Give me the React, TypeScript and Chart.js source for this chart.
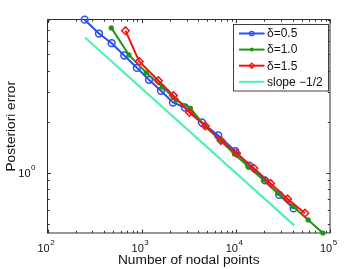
import React, { useEffect, useRef } from 'react';
import { Chart, registerables } from 'chart.js';
Chart.register(...registerables);

// ---- data ----
const blueX = [248, 352, 480, 653, 891, 1196, 1603, 2149, 2882, 4366, 6505, 9860, 13880, 20370, 28900, 41100];
const blueY = [8.03, 6.65, 5.83, 4.93, 4.17, 3.54, 3.05, 2.6, 2.43, 1.98, 1.66, 1.343, 1.1, 0.9, 0.739, 0.615];

const greenX = [476, 733, 1119, 1663, 2330, 3297, 4698, 6863, 9665, 13610, 19630, 28180, 40650, 58700, 84070];
const greenY = [7.18, 4.97, 3.9, 3.21, 2.69, 2.4, 1.887, 1.549, 1.289, 1.085, 0.906, 0.756, 0.632, 0.526, 0.44];

const redX = [673, 941, 1508, 2176, 3216, 4734, 6948, 10200, 15560, 23410, 35480, 54150];
const redY = [6.91, 4.55, 3.5, 2.856, 2.27, 1.891, 1.549, 1.302, 1.062, 0.864, 0.7, 0.576];

const slopeX = [250, 41700];
const slopeY = [6.3, 0.488];

const seriesLabels = ['δ=0.5', 'δ=1.0', 'δ=1.5', 'slope −1/2'];
const xTickExponents = ['2', '3', '4', '5'];
const yTickExponents = ['0'];
const xTitle = 'Number of nodal points';
const yTitle = 'Posteriori error';

const X_MIN = 100;
const X_MAX = 100000;
const Y_MIN = 0.44;
const Y_MAX = 8.05;

// ---- styles ----
const FONT = '"Liberation Sans", Arial, Helvetica, sans-serif';
const AXIS_COLOR = '#303030';
const BLUE = 'rgb(40,80,240)';
const GREEN = 'rgb(30,150,20)';
const RED = 'rgb(245,20,20)';
const AQUA = 'rgb(80,240,180)';

const toPts = (xs: number[], ys: number[]) => xs.map((x, i) => ({ x, y: ys[i] }));

type Marker = 'circle' | 'dot' | 'diamond' | 'none';
const markers: Marker[] = ['circle', 'dot', 'diamond', 'none'];
const colors = [BLUE, GREEN, RED, AQUA];

function drawMarker(ctx: CanvasRenderingContext2D, m: Marker, x: number, y: number, color: string) {
  ctx.save();
  ctx.strokeStyle = color;
  ctx.fillStyle = color;
  ctx.lineWidth = 1.5;
  if (m === 'circle') {
    ctx.beginPath();
    ctx.arc(x, y, 3.2, 0, Math.PI * 2);
    ctx.stroke();
  } else if (m === 'dot') {
    ctx.beginPath();
    ctx.arc(x, y, 2.5, 0, Math.PI * 2);
    ctx.fill();
  } else if (m === 'diamond') {
    const r = 3.8;
    ctx.beginPath();
    ctx.moveTo(x, y - r);
    ctx.lineTo(x + r, y);
    ctx.lineTo(x, y + r);
    ctx.lineTo(x - r, y);
    ctx.closePath();
    ctx.stroke();
  }
  ctx.restore();
}

function drawPow(ctx: CanvasRenderingContext2D, exp: string, cx: number, cy: number, align: 'center' | 'right') {
  ctx.save();
  ctx.fillStyle = '#111';
  ctx.textBaseline = 'middle';
  ctx.textAlign = 'left';
  ctx.font = `11px ${FONT}`;
  const wb = ctx.measureText('10').width;
  ctx.font = `8px ${FONT}`;
  const we = ctx.measureText(exp).width;
  const total = wb + we + 0.5;
  const left = align === 'center' ? cx - total / 2 : cx - total;
  ctx.font = `11px ${FONT}`;
  ctx.fillText('10', left, cy);
  ctx.font = `8px ${FONT}`;
  ctx.fillText(exp, left + wb + 0.5, cy - 6);
  ctx.restore();
}

const framePlugin = {
  id: 'frame',
  beforeDatasetsDraw(chart: any) {
    const { ctx, chartArea: a, scales } = chart;
    const xs = scales.x;
    const ys = scales.y;
    ctx.save();
    ctx.strokeStyle = AXIS_COLOR;
    ctx.lineWidth = 1;
    ctx.strokeRect(a.left, a.top, a.right - a.left, a.bottom - a.top);
    // x ticks
    for (let e = 2; e <= 5; e++) {
      for (let m = 1; m <= 9; m++) {
        const v = m * Math.pow(10, e);
        if (v < X_MIN || v > X_MAX) continue;
        const px = Math.round(xs.getPixelForValue(v)) + 0.5;
        const len = m === 1 ? 3.5 : 2.2;
        ctx.beginPath();
        ctx.moveTo(px, a.bottom);
        ctx.lineTo(px, a.bottom - len);
        ctx.moveTo(px, a.top);
        ctx.lineTo(px, a.top + len);
        ctx.stroke();
      }
    }
    // y ticks
    for (let e = -1; e <= 0; e++) {
      for (let m = 1; m <= 9; m++) {
        const v = m * Math.pow(10, e);
        if (v < Y_MIN || v > Y_MAX) continue;
        const py = Math.round(ys.getPixelForValue(v)) + 0.5;
        const len = m === 1 ? 3.5 : 2.2;
        ctx.beginPath();
        ctx.moveTo(a.left, py);
        ctx.lineTo(a.left + len, py);
        ctx.moveTo(a.right, py);
        ctx.lineTo(a.right - len, py);
        ctx.stroke();
      }
    }
    ctx.restore();
  },
  afterDraw(chart: any) {
    const { ctx, chartArea: a, scales } = chart;
    const xs = scales.x;
    const ys = scales.y;
    // tick labels
    xTickExponents.forEach((exp) => {
      const px = xs.getPixelForValue(Math.pow(10, Number(exp)));
      drawPow(ctx, exp, px - 1.5, a.bottom + 15.5, 'center');
    });
    yTickExponents.forEach((exp) => {
      const py = ys.getPixelForValue(Math.pow(10, Number(exp)));
      drawPow(ctx, exp, a.left - 12, py + 1.5, 'right');
    });
    // axis titles
    ctx.save();
    ctx.fillStyle = '#111';
    ctx.font = `13.7px ${FONT}`;
    ctx.textAlign = 'center';
    ctx.textBaseline = 'middle';
    ctx.fillText(xTitle, (a.left + a.right) / 2, a.bottom + 27.5);
    ctx.translate(11.5, (a.top + a.bottom) / 2);
    ctx.rotate(-Math.PI / 2);
    ctx.fillText(yTitle, 0, 0);
    ctx.restore();

    // legend
    const bx = a.right - 97;
    const by = a.top + 4;
    const bw = 95;
    const bh = 66.5;
    ctx.save();
    ctx.fillStyle = '#fff';
    ctx.fillRect(bx, by, bw, bh);
    ctx.strokeStyle = '#404040';
    ctx.lineWidth = 1;
    ctx.strokeRect(Math.round(bx) + 0.5, Math.round(by) + 0.5, bw, bh);
    seriesLabels.forEach((lab, i) => {
      const cy = by + 10 + i * 16.1;
      const x0 = bx + 6;
      const x1 = bx + 31.5;
      ctx.strokeStyle = colors[i];
      ctx.lineWidth = 2;
      ctx.beginPath();
      ctx.moveTo(x0, cy);
      ctx.lineTo(x1, cy);
      ctx.stroke();
      const mk = markers[i];
      if (mk === 'dot') {
        ctx.fillStyle = colors[i];
        ctx.beginPath();
        ctx.arc((x0 + x1) / 2, cy, 2, 0, Math.PI * 2);
        ctx.fill();
      } else if (mk === 'circle') {
        ctx.lineWidth = 1.3;
        ctx.beginPath();
        ctx.arc((x0 + x1) / 2, cy, 2.2, 0, Math.PI * 2);
        ctx.stroke();
      } else if (mk === 'diamond') {
        const r = 2.6;
        const mx = (x0 + x1) / 2;
        ctx.lineWidth = 1.3;
        ctx.beginPath();
        ctx.moveTo(mx, cy - r);
        ctx.lineTo(mx + r, cy);
        ctx.lineTo(mx, cy + r);
        ctx.lineTo(mx - r, cy);
        ctx.closePath();
        ctx.stroke();
      }
      ctx.fillStyle = '#111';
      ctx.font = `12px ${FONT}`;
      ctx.textAlign = 'left';
      ctx.textBaseline = 'middle';
      ctx.fillText(lab, x1 + 2.5, cy + 0.5);
    });
    ctx.restore();
  },
};

export default function App() {
  const ref = useRef<HTMLCanvasElement | null>(null);
  useEffect(() => {
    document.body.style.margin = '0';
    const canvas = ref.current;
    if (!canvas) return;
    const chart = new Chart(canvas, {
      type: 'scatter',
      data: {
        datasets: [
          {
            label: seriesLabels[3],
            data: toPts(slopeX, slopeY),
            showLine: true,
            borderColor: AQUA,
            borderWidth: 2.2,
            pointRadius: 0,
            order: 3,
            clip: false,
          },
          {
            label: seriesLabels[0],
            data: toPts(blueX, blueY),
            showLine: true,
            borderColor: BLUE,
            backgroundColor: 'rgba(0,0,0,0)',
            borderWidth: 2,
            pointStyle: 'circle',
            pointRadius: 3.4,
            pointBorderWidth: 1.5,
            pointBorderColor: BLUE,
            pointBackgroundColor: 'rgba(0,0,0,0)',
            order: 2,
            clip: false,
          },
          {
            label: seriesLabels[1],
            data: toPts(greenX, greenY),
            showLine: true,
            borderColor: GREEN,
            backgroundColor: GREEN,
            borderWidth: 2,
            pointStyle: 'circle',
            pointRadius: 2.6,
            pointBorderWidth: 0,
            pointBackgroundColor: GREEN,
            order: 1,
            clip: false,
          },
          {
            label: seriesLabels[2],
            data: toPts(redX, redY),
            showLine: true,
            borderColor: RED,
            backgroundColor: 'rgba(0,0,0,0)',
            borderWidth: 2,
            pointStyle: 'rectRot',
            pointRadius: 3.8,
            pointBorderWidth: 1.5,
            pointBorderColor: RED,
            pointBackgroundColor: 'rgba(0,0,0,0)',
            order: 0,
            clip: false,
          },
        ],
      },
      options: {
        responsive: false,
        devicePixelRatio: 1,
        animation: false,
        events: [],
        layout: { padding: { left: 47.5, right: 34, top: 19.5, bottom: 36 } },
        scales: {
          x: { type: 'logarithmic', min: X_MIN, max: X_MAX, display: false },
          y: { type: 'logarithmic', min: Y_MIN, max: Y_MAX, display: false },
        },
        plugins: {
          legend: { display: false },
          tooltip: { enabled: false },
        },
      },
      plugins: [framePlugin],
    } as any);
    return () => chart.destroy();
  }, []);
  return (
    <div style={{ position: 'absolute', left: 0, top: 0, width: 364, height: 269, background: '#fff' }}>
      <canvas ref={ref} width={364} height={269} style={{ display: 'block', width: 364, height: 269 }} />
    </div>
  );
}
